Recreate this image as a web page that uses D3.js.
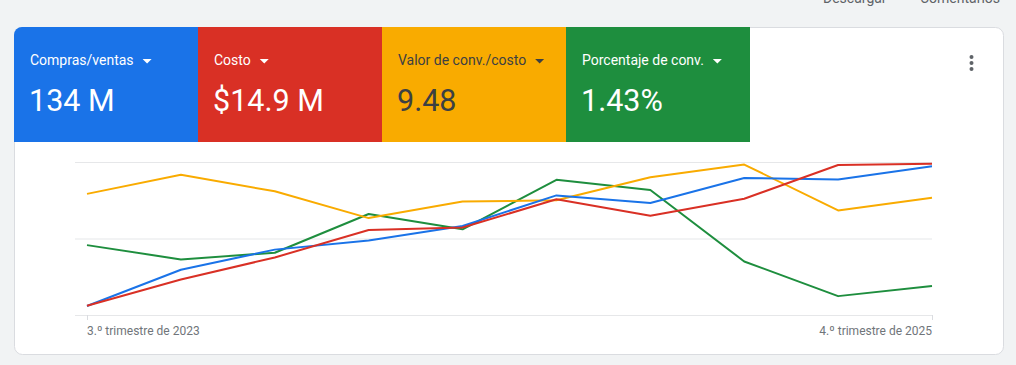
<!DOCTYPE html>
<html>
<head>
<meta charset="utf-8">
<script src="https://cdn.jsdelivr.net/npm/d3@7"></script>
<style>
  body { margin: 0; background: #f1f3f4; font-family: Roboto, Arial, sans-serif; }
  svg { display: block; }
</style>
</head>
<body>
<svg width="1016" height="365"></svg>
<script>
// quarters Q3 2023 .. Q4 2025
var quarters = ["3.º trimestre de 2023", "4.º trimestre de 2023", "1.º trimestre de 2024", "2.º trimestre de 2024",
    "3.º trimestre de 2024", "4.º trimestre de 2024", "1.º trimestre de 2025", "2.º trimestre de 2025",
    "3.º trimestre de 2025", "4.º trimestre de 2025"];

// compras/ventas, millones
var compras = [1.3, 6.5, 9.4, 10.7, 12.8, 17.2, 16.1, 19.7, 19.5, 21.4];
// costo, millones de dolares
var costo = [0.15, 0.58, 0.94, 1.39, 1.43, 1.89, 1.62, 1.90, 2.45, 2.47];
// valor de conv./costo
var valorCosto = [9.5, 11.0, 9.7, 7.6, 8.9, 9.0, 10.8, 11.8, 8.2, 9.2];
// porcentaje de conv. (%)
var porcentaje = [1.37, 1.09, 1.22, 1.98, 1.68, 2.65, 2.45, 1.05, 0.37, 0.57];

var tileLabels = ["Compras/ventas", "Costo", "Valor de conv./costo", "Porcentaje de conv."];
var tileValues = ["134 M", "$14.9 M", "9.48", "1.43%"];
var tileColors = ["#1a73e8", "#d93025", "#f9ab00", "#1e8e3e"];
var tileText = ["#ffffff", "#ffffff", "#3c4043", "#ffffff"];

var seriesList = [
    { name: "Compras/ventas", values: compras, max: 22, color: "#1a73e8" },
    { name: "Costo", values: costo, max: 2.5, color: "#d93025" },
    { name: "Valor de conv./costo", values: valorCosto, max: 12, color: "#f9ab00" },
    { name: "Porcentaje de conv.", values: porcentaje, max: 3, color: "#1e8e3e" }
];

var svg = d3.select("svg");

// top toolbar text, mostly cut off
svg.append("text").attr("x", 823).attr("y", 3).attr("font-size", 14).attr("fill", "#5f6368").text("Descargar");
svg.append("text").attr("x", 920).attr("y", 3).attr("font-size", 14).attr("fill", "#5f6368").text("Comentarios");

// card
svg.append("rect")
    .attr("x", 14.5).attr("y", 27.5)
    .attr("width", 989).attr("height", 327)
    .attr("rx", 8)
    .attr("fill", "#ffffff")
    .attr("stroke", "#dadce0");

// tiles
var tileW = 184, tileX0 = 14, tileY = 27, tileH = 115;
var clip = svg.append("defs").append("clipPath").attr("id", "cardclip");
clip.append("rect").attr("x", 14).attr("y", 27).attr("width", 990).attr("height", 328).attr("rx", 8);

var tiles = svg.append("g").attr("clip-path", "url(#cardclip)")
    .selectAll("g")
    .data(tileLabels)
    .enter().append("g")
    .attr("transform", function(d, i) { return "translate(" + (tileX0 + i * tileW) + "," + tileY + ")"; });

tiles.append("rect")
    .attr("width", tileW).attr("height", tileH)
    .attr("fill", function(d, i) { return tileColors[i]; });

tiles.append("text")
    .attr("x", 16).attr("y", 38)
    .attr("font-size", 14)
    .attr("fill", function(d, i) { return tileText[i]; })
    .text(function(d) { return d; });

tiles.each(function(d, i) {
    var g = d3.select(this);
    var w = g.select("text").node().getComputedTextLength();
    var ax = 16 + w + 9;
    g.append("path")
        .attr("d", "M" + ax + ",32 l9,0 l-4.5,4.5 z")
        .attr("fill", tileText[i]);
});

tiles.append("text")
    .attr("x", 15).attr("y", 83.5)
    .attr("font-size", 30.5)
    .attr("fill", function(d, i) { return tileText[i]; })
    .text(function(d, i) { return tileValues[i]; });

// menu dots
svg.selectAll("circle.dot")
    .data([57, 63, 69])
    .enter().append("circle")
    .attr("class", "dot")
    .attr("cx", 971.5).attr("cy", function(d) { return d; })
    .attr("r", 2)
    .attr("fill", "#5f6368");

// chart
var x = d3.scaleLinear().domain([0, quarters.length - 1]).range([87, 932]);
var yTop = 162, yBottom = 315;

var grid = [0, 0.5, 1];
svg.selectAll("line.grid")
    .data(grid)
    .enter().append("line")
    .attr("class", "grid")
    .attr("x1", 75).attr("x2", 932)
    .attr("y1", function(d) { return yBottom - d * (yBottom - yTop) + 0.5; })
    .attr("y2", function(d) { return yBottom - d * (yBottom - yTop) + 0.5; })
    .attr("stroke", "#e6e7e9")
    .attr("stroke-width", 1.2);

// first / last tick
var ends = [0, quarters.length - 1];
svg.selectAll("line.tick")
    .data(ends)
    .enter().append("line")
    .attr("class", "tick")
    .attr("x1", function(d) { return x(d) + 0.5; })
    .attr("x2", function(d) { return x(d) + 0.5; })
    .attr("y1", yBottom).attr("y2", yBottom + 5)
    .attr("stroke", "#dadce0");

svg.selectAll("text.xlabel")
    .data(ends)
    .enter().append("text")
    .attr("class", "xlabel")
    .attr("x", function(d) { return x(d); })
    .attr("y", 335)
    .attr("font-size", 12)
    .attr("fill", "#70757a")
    .attr("text-anchor", function(d, i) { return i == 0 ? "start" : "end"; })
    .text(function(d) { return quarters[d]; });

// draw order: green, orange, blue, red on top
var order = [3, 2, 0, 1];
order.forEach(function(k) {
    var s = seriesList[k];
    var y = d3.scaleLinear().domain([0, s.max]).range([yBottom, yTop]);
    var line = d3.line()
        .x(function(d, i) { return x(i); })
        .y(function(d) { return y(d); });
    svg.append("path")
        .datum(s.values)
        .attr("d", line)
        .attr("fill", "none")
        .attr("stroke", s.color)
        .attr("stroke-width", 2)
        .attr("stroke-linejoin", "round");
});
</script>
</body>
</html>
